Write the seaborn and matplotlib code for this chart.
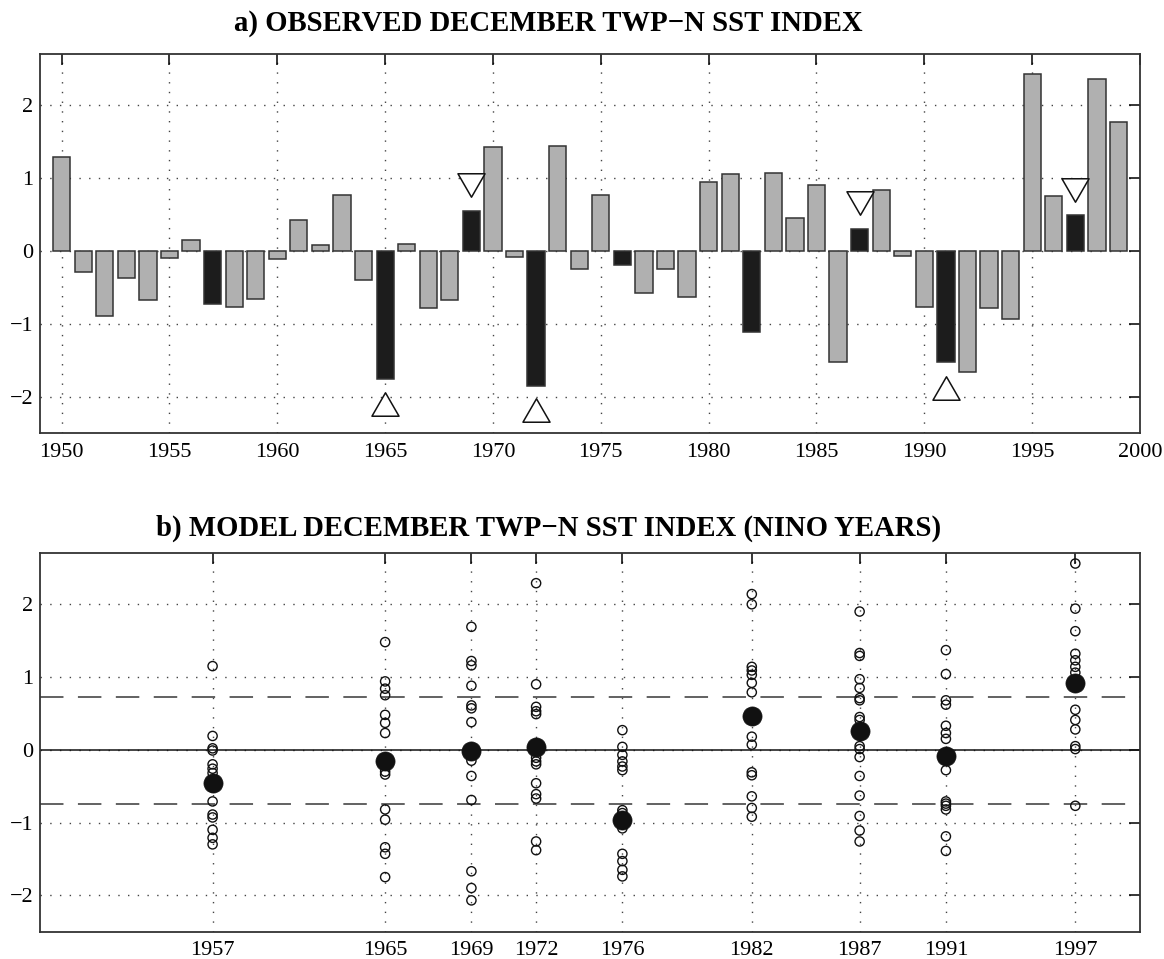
import numpy as np
import pandas as pd
import matplotlib
matplotlib.use("Agg")
import matplotlib.pyplot as plt
from matplotlib.path import Path
from matplotlib.markers import MarkerStyle
import seaborn as sns

# ---------------- data ----------------
# a) observed December TWP-N SST index, 1950-1999
obs_years = list(range(1950, 2000))
obs_index = [
    1.28, -0.29, -0.89, -0.37, -0.67, -0.10, 0.15, -0.73, -0.77, -0.66,
    -0.11, 0.42, 0.08, 0.77, -0.40, -1.76, 0.09, -0.79, -0.68, 0.55,
    1.43, -0.09, -1.85, 1.44, -0.25, 0.76, -0.19, -0.58, -0.25, -0.63,
    0.94, 1.06, -1.11, 1.07, 0.45, 0.90, -1.52, 0.30, 0.83, -0.07,
    -0.77, -1.53, -1.67, -0.78, -0.94, 2.43, 0.75, 0.49, 2.36, 1.77,
]
nino_years = [1957, 1965, 1969, 1972, 1976, 1982, 1987, 1991, 1997]

# triangle markers in panel a
up_years = [1965, 1972, 1991]
up_values = [-2.10, -2.19, -1.88]
down_years = [1969, 1987, 1997]
down_values = [0.90, 0.65, 0.83]

# b) model ensemble members for each Nino year
members_1957 = [1.15, 0.19, 0.02, -0.01, -0.20, -0.26, -0.32, -0.52, -0.71,
                -0.89, -0.93, -1.10, -1.21, -1.30]
members_1965 = [1.48, 0.94, 0.84, 0.75, 0.48, 0.37, 0.23, -0.30, -0.34,
                -0.82, -0.96, -1.34, -1.43, -1.75]
members_1969 = [1.69, 1.22, 1.16, 0.88, 0.61, 0.57, 0.38, -0.15, -0.36,
                -0.69, -1.67, -1.90, -2.07]
members_1972 = [2.29, 0.90, 0.59, 0.53, 0.49, -0.11, -0.16, -0.20, -0.46,
                -0.61, -0.67, -1.26, -1.38]
members_1976 = [0.27, 0.04, -0.07, -0.16, -0.23, -0.28, -0.83, -0.87, -1.08,
                -1.43, -1.53, -1.65, -1.74]
members_1982 = [2.14, 2.00, 1.14, 1.09, 1.03, 0.92, 0.79, 0.18, 0.07, -0.31,
                -0.35, -0.64, -0.80, -0.92]
members_1987 = [1.90, 1.33, 1.29, 0.97, 0.85, 0.71, 0.68, 0.45, 0.41, 0.05,
                0.01, -0.10, -0.36, -0.63, -0.91, -1.11, -1.26]
members_1991 = [1.37, 1.04, 0.68, 0.62, 0.33, 0.23, 0.15, -0.28, -0.71,
                -0.74, -0.77, -0.82, -1.19, -1.39]
members_1997 = [2.56, 1.94, 1.63, 1.32, 1.23, 1.14, 1.06, 0.55, 0.41, 0.28,
                0.05, 0.01, -0.77]
ensemble_mean = [-0.45, -0.16, -0.02, 0.04, -0.97, 0.46, 0.26, -0.09, 0.92]

upper_threshold = 0.72
lower_threshold = -0.75

title_a = "a) OBSERVED DECEMBER TWP\u2212N SST INDEX"
title_b = "b) MODEL DECEMBER TWP\u2212N SST INDEX (NINO YEARS)"

# ---------------- tables ----------------
obs_df = pd.DataFrame({
    "year": obs_years,
    "index": obs_index,
    "kind": ["nino" if y in nino_years else "other" for y in obs_years],
})
member_lists = [members_1957, members_1965, members_1969, members_1972,
                members_1976, members_1982, members_1987, members_1991,
                members_1997]
ens_df = pd.DataFrame(
    [(yr, v) for yr, vals in zip(nino_years, member_lists) for v in vals],
    columns=["year", "index"],
)
mean_df = pd.DataFrame({"year": nino_years, "index": ensemble_mean})
up_df = pd.DataFrame({"year": up_years, "index": up_values})
down_df = pd.DataFrame({"year": down_years, "index": down_values})

# ---------------- style ----------------
sns.set_theme(style="white")
plt.rcParams["font.family"] = ["Liberation Serif", "DejaVu Serif"]
plt.rcParams["axes.unicode_minus"] = True
plt.rcParams["text.color"] = "black"
plt.rcParams["xtick.color"] = "black"
plt.rcParams["ytick.color"] = "black"

fig = plt.figure(figsize=(11.64, 9.59), dpi=100)
ax_a = fig.add_axes([0.0344, 0.5485, 0.9450, 0.3952])
ax_b = fig.add_axes([0.0344, 0.0285, 0.9450, 0.3945])

grid_style = dict(linestyle=(0, (1, 6)), color="#444444", linewidth=1.0)
spine_color = "#333333"

def style_axes(ax):
    ax.set_xlim(1949, 2000)
    ax.set_ylim(-2.5, 2.7)
    ax.set_yticks([-2, -1, 0, 1, 2])
    ax.set_axisbelow(True)
    ax.grid(True, **grid_style)
    ax.tick_params(direction="in", top=True, right=True, length=8, width=1.1,
                   colors="black", labelsize=16)
    ax.tick_params(axis="x", pad=7)
    ax.tick_params(axis="y", pad=5)
    for sp in ax.spines.values():
        sp.set_color(spine_color)
        sp.set_linewidth(1.3)
    ax.set_xlabel("")
    ax.set_ylabel("")

def triangle(pointing_up):
    # equilateral triangle, width 2 and height sqrt(3)
    h = 0.866 if pointing_up else -0.866
    verts = [(0.0, h), (-1.0, -h), (1.0, -h), (0.0, h)]
    codes = [Path.MOVETO, Path.LINETO, Path.LINETO, Path.CLOSEPOLY]
    return MarkerStyle(Path(verts, codes))

def panel_title(ax, text, gap_pt):
    # title centred slightly left of the axes centre
    ax.annotate(text, xy=(0.4625, 1.0), xycoords="axes fraction",
                xytext=(0, gap_pt), textcoords="offset points",
                ha="center", va="baseline", fontsize=20.7,
                fontweight="bold", color="black")

# ---------------- panel a ----------------
sns.barplot(data=obs_df, x="year", y="index", hue="kind",
            palette={"other": "#b0b0b0", "nino": "#1c1c1c"},
            native_scale=True, dodge=False, width=0.8, errorbar=None,
            edgecolor="#333333", linewidth=1.1, legend=False, ax=ax_a)

sns.scatterplot(data=up_df, x="year", y="index", marker=triangle(True), s=380,
                facecolor="white", edgecolor="#111111", linewidth=1.1,
                zorder=5, legend=False, ax=ax_a)
sns.scatterplot(data=down_df, x="year", y="index", marker=triangle(False),
                s=380, facecolor="white", edgecolor="#111111", linewidth=1.1,
                zorder=5, legend=False, ax=ax_a)

style_axes(ax_a)
ax_a.set_xticks(np.arange(1950, 2001, 5))
panel_title(ax_a, title_a, 17)

# ---------------- panel b ----------------
ax_b.axhline(0, color="#111111", linewidth=1.1, zorder=2)
for thr in (upper_threshold, lower_threshold):
    ax_b.axhline(thr, color="#555555", linewidth=1.3,
                 linestyle=(0, (13, 8)), zorder=2)

sns.scatterplot(data=ens_df, x="year", y="index", marker="o", s=44,
                facecolor="none", edgecolor="#111111", linewidth=1.0,
                zorder=3, legend=False, ax=ax_b)
sns.scatterplot(data=mean_df, x="year", y="index", marker="o", s=190,
                color="#111111", edgecolor="#111111", linewidth=0.5,
                zorder=4, legend=False, ax=ax_b)

style_axes(ax_b)
ax_b.set_xticks(nino_years)
panel_title(ax_b, title_b, 13)

fig.savefig("out.png", dpi=100, facecolor="white")
